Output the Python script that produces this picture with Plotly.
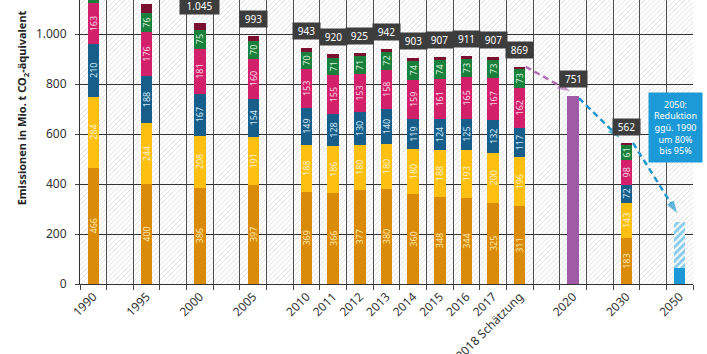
import base64
import plotly.graph_objects as go

# ---------------- data ----------------
slots = ["1990", "", "1995", "", "2000", "", "2005", "", "2010", "2011", "2012", "2013",
         "2014", "2015", "2016", "2017", "2018 Schätzung", "", "2020", "", "2030", "", "2050"]

years = ["1990", "1995", "2000", "2005", "2010", "2011", "2012", "2013", "2014",
         "2015", "2016", "2017", "2018 Schätzung", "2030"]
energie = [466, 400, 386, 397, 369, 366, 377, 380, 360, 348, 344, 325, 311, 183]
industrie = [284, 244, 208, 191, 188, 186, 180, 180, 180, 188, 193, 200, 196, 143]
gebaeude = [210, 188, 167, 154, 149, 128, 130, 140, 119, 124, 125, 132, 117, 72]
verkehr = [163, 176, 181, 160, 153, 155, 153, 158, 159, 161, 165, 167, 162, 98]
landwirtschaft = [90, 76, 75, 70, 70, 71, 71, 72, 74, 74, 73, 73, 73, 61]
sonstige = [38, 38, 28, 21, 14, 14, 14, 12, 11, 12, 11, 10, 10, 5]

ziel_2020 = 751
ziel_2050_min = 63    # -95 %
ziel_2050_max = 250   # -80 %

y_ticks = [0, 200, 400, 600, 800, 1000]
Y_MAX = 1136

# ---------------- helpers ----------------
pos = {lab: i for i, lab in enumerate(slots) if lab}
xs = [pos[y] for y in years]
totals = [sum(v) for v in zip(energie, industrie, gebaeude, verkehr, landwirtschaft, sonstige)]


def de(v):
    return f"{v:,}".replace(",", ".")


FONT = "Noto Sans"
BW = 0.43

fig = go.Figure()

series = [
    ("Energiewirtschaft", energie, "#d98b09", "#ffe7a8", True),
    ("Industrie", industrie, "#fdbf12", "#fff3c4", True),
    ("Gebäude", gebaeude, "#175f8a", "#cfe6f5", True),
    ("Verkehr", verkehr, "#d3206a", "#fcd3e3", True),
    ("Landwirtschaft", landwirtschaft, "#1a803d", "#d3f0d8", True),
    ("Sonstige", sonstige, "#7b0f2f", "#ffffff", False),
]
for name, vals, col, tcol, lab in series:
    fig.add_trace(go.Bar(
        x=xs, y=vals, name=name, width=BW,
        marker=dict(color=col, line=dict(width=0)),
        text=[str(v) for v in vals] if lab else None,
        textposition="inside" if lab else "none",
        insidetextanchor="middle", textangle=-90,
        insidetextfont=dict(family=FONT, size=9, color=tcol),
        hoverinfo="skip", showlegend=False,
    ))

fig.add_trace(go.Bar(x=[pos["2020"]], y=[ziel_2020], width=BW,
                     marker=dict(color="#a15aa6", line=dict(width=0)),
                     hoverinfo="skip", showlegend=False))
fig.add_trace(go.Bar(x=[pos["2050"]], y=[ziel_2050_min], width=BW,
                     marker=dict(color="#1b9ad7", line=dict(width=0)),
                     hoverinfo="skip", showlegend=False))
fig.add_trace(go.Bar(x=[pos["2050"]], y=[ziel_2050_max - ziel_2050_min], width=BW,
                     marker=dict(color="#ffffff", line=dict(width=0),
                                 pattern=dict(shape="/", fgcolor="#1b9ad7", bgcolor="#ffffff",
                                              size=5, solidity=0.65)),
                     hoverinfo="skip", showlegend=False))

# dashed arrows
t2018 = totals[years.index("2018 Schätzung")]
t2030 = totals[years.index("2030")]
arrows = [
    ("#b36fb6", (pos["2018 Schätzung"] + 0.22, t2018), (pos["2020"] - 0.12, ziel_2020 + 20)),
    ("#2398cf", (pos["2020"] + 0.22, ziel_2020 - 8), (pos["2030"] - 0.25, t2030 + 22)),
    ("#2398cf", (pos["2030"] + 0.25, t2030 + 2), (pos["2050"] - 0.1, ziel_2050_max + 34)),
]
for col, (x0, y0), (x1, y1) in arrows:
    fig.add_trace(go.Scatter(
        x=[x0, x1], y=[y0, y1], mode="lines+markers",
        line=dict(color=col, width=2.5, dash="6px,4px"),
        marker=dict(symbol="arrow", size=[0, 13], color=col, angleref="previous",
                    line=dict(width=0)),
        hoverinfo="skip", showlegend=False, cliponaxis=False,
    ))

annotations = []
for x, t in zip(xs + [pos["2020"]], totals + [ziel_2020]):
    if t > Y_MAX - 60:
        continue  # box would lie above the visible plot area
    s = de(t)
    annotations.append(dict(
        x=x, y=t, xref="x", yref="y", yshift=17, text=s, showarrow=False,
        font=dict(family=FONT, size=10, color="#ffffff"),
        bgcolor="#3d3d3d", width=6 * len(s) + 6, height=13, borderpad=1.5,
    ))

annotations.append(dict(
    xref="paper", yref="paper", x=-0.094, y=0.62, textangle=-90,
    text="<b>Emissionen in Mio. t CO<sub>2</sub>-äquivalent</b>", showarrow=False,
    font=dict(family=FONT, size=11, color="#222222"), xanchor="center", yanchor="middle",
))
annotations.append(dict(
    xref="paper", yref="paper", x=0.9714, y=0.551,
    text="2050:<br>Reduktion<br>ggü. 1990<br>um 80%<br>bis 95%", showarrow=False,
    font=dict(family=FONT, size=9, color="#ffffff"), bgcolor="#1b9ad7",
    width=51, height=67, align="center", xanchor="center", yanchor="middle",
))

# hatched background
W, H = 613, 284
svg = (f'<svg xmlns="http://www.w3.org/2000/svg" width="{W}" height="{H}" viewBox="0 0 {W} {H}">'
       '<defs><pattern id="h" width="5" height="5" patternUnits="userSpaceOnUse">'
       '<path d="M-1,1 l2,-2 M0,5 l5,-5 M4,6 l2,-2" stroke="#e2e2e2" stroke-width="1"/>'
       '</pattern></defs><rect width="100%" height="100%" fill="#ffffff"/>'
       '<rect width="100%" height="100%" fill="url(#h)"/></svg>')
img_src = "data:image/svg+xml;base64," + base64.b64encode(svg.encode()).decode()

fig.update_layout(
    width=707, height=354,
    margin=dict(l=80, r=14, t=0, b=70, pad=0),
    barmode="stack",
    paper_bgcolor="#ffffff", plot_bgcolor="#ffffff",
    separators=",.",
    font=dict(family=FONT, size=12, color="#333333"),
    uniformtext=dict(minsize=9, mode="show"),
    annotations=annotations,
    images=[dict(source=img_src, xref="paper", yref="paper", x=0, y=1, sizex=1, sizey=1,
                 sizing="stretch", layer="below", xanchor="left", yanchor="top")],
    xaxis=dict(
        range=[-0.5, len(slots) - 0.5], automargin=False,
        tickmode="array", tickvals=xs + [pos["2020"], pos["2050"]],
        ticktext=years + ["2020", "2050"],
        tickangle=-45, ticks="", showgrid=False, zeroline=False,
        showline=True, linecolor="#333333", linewidth=1,
        tickfont=dict(family=FONT, size=12, color="#333333"),
        minor=dict(tickmode="array", tickvals=[i - 0.5 for i in range(len(slots) + 1)],
                   ticks="outside", ticklen=5, tickcolor="#444444",
                   showgrid=True, gridcolor="#505050", gridwidth=1),
    ),
    yaxis=dict(
        range=[0, Y_MAX], automargin=False, tickmode="array", tickvals=y_ticks, tickformat=",",
        showgrid=True, gridcolor="#333333", gridwidth=1, zeroline=False,
        showline=True, linecolor="#333333", linewidth=1,
        ticks="outside", ticklen=4, tickcolor="#444444", ticklabelstandoff=6,
        tickfont=dict(family=FONT, size=12, color="#333333"),
    ),
)

fig.write_html("out.html")
